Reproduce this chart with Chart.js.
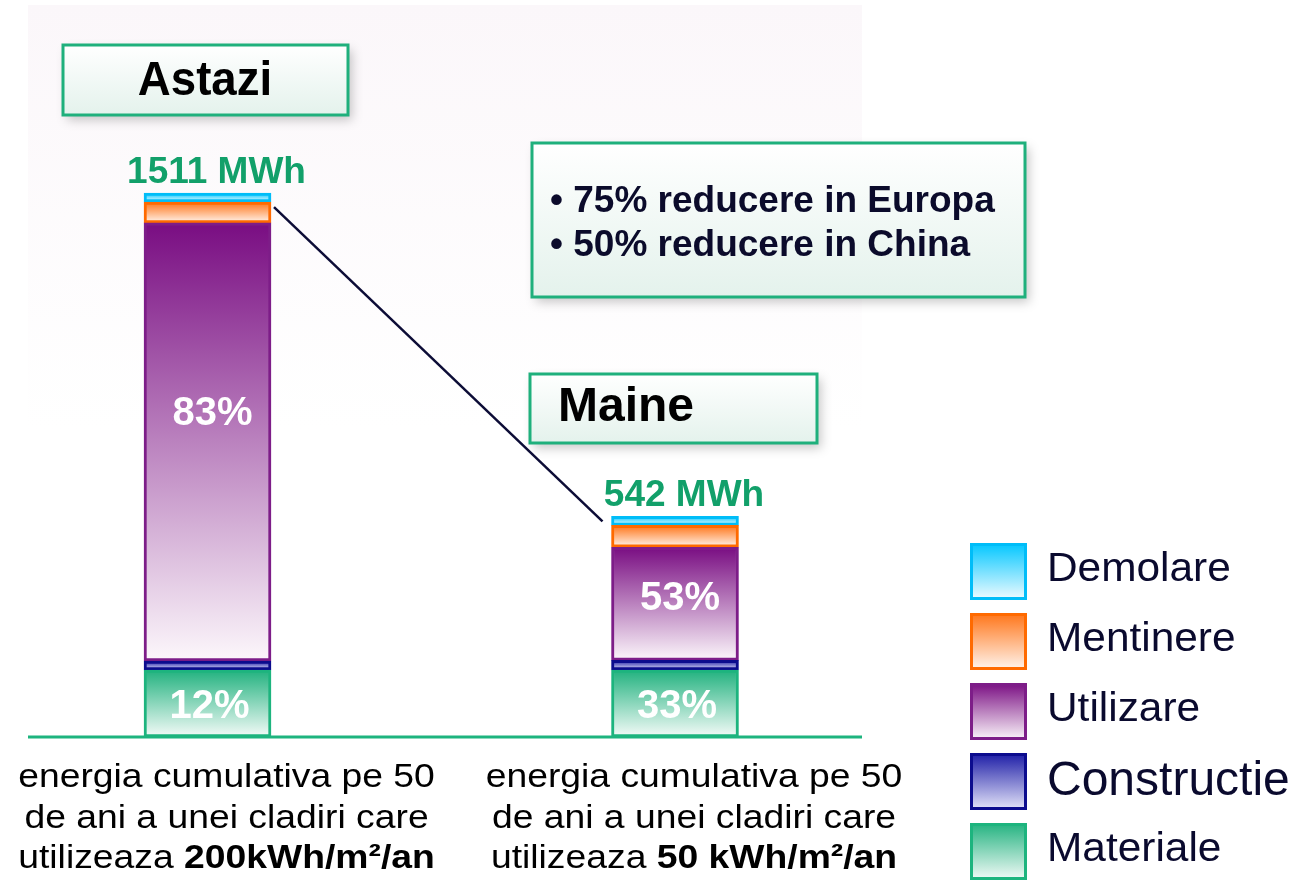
<!DOCTYPE html>
<html>
<head>
<meta charset="utf-8">
<script src="https://cdn.jsdelivr.net/npm/chart.js@4/dist/chart.umd.min.js"></script>
<style>
  html, body { margin: 0; padding: 0; background: #ffffff; }
  #wrap { width: 1304px; height: 880px; }
</style>
</head>
<body>
<div id="wrap"><canvas id="energyChart"></canvas></div>
<script>
const categories = ['Astazi', 'Maine']
const seriesNames = ['Materiale', 'Constructie', 'Utilizare', 'Mentinere', 'Demolare']

// MWh pe faza (de jos in sus)
const materiale   = [186, 186]
const constructie = [25, 27]
const utilizare   = [1217, 314]
const mentinere   = [58, 61]
const demolare    = [25, 25]

const totalLabels  = ['1511 MWh', '542 MWh']
const materialePct = ['12%', '33%']
const utilizarePct = ['83%', '53%']

const captionLines = [
    ['energia cumulativa pe 50', 'de ani a unei cladiri care', ['utilizeaza ', '200kWh/m²/an']],
    ['energia cumulativa pe 50', 'de ani a unei cladiri care', ['utilizeaza ', '50 kWh/m²/an']]
]
const notes = ['• 75% reducere in Europa', '• 50% reducere in China']

const palette = {
    Materiale:   { border: '#1db47e', top: '#22b27f', bottom: '#f4fbf8' },
    Constructie: { border: '#0c0c8e', top: '#1c1ca6', bottom: '#e6e6fa' },
    Utilizare:   { border: '#7d1d88', top: '#790d82', bottom: '#fcf7fb' },
    Mentinere:   { border: '#ff6a00', top: '#ff7417', bottom: '#fff6f0' },
    Demolare:    { border: '#00bdf8', top: '#00c6ff', bottom: '#f2fcff' }
}

const seriesValues = [materiale, constructie, utilizare, mentinere, demolare]

function vGradient(ctx, y0, y1, c0, c1) {
    const g = ctx.createLinearGradient(0, y0, 0, y1)
    g.addColorStop(0, c0)
    g.addColorStop(1, c1)
    return g
}

// fiecare segment are gradientul lui, de sus (inchis) in jos (deschis)
function segmentFill(context) {
    const chart = context.chart
    const col = palette[context.dataset.label]
    if (!chart.chartArea) return col.top
    const i = context.dataIndex
    let base = 0
    for (let d = 0; d < context.datasetIndex; d++) base += chart.data.datasets[d].data[i].y
    const top = base + context.dataset.data[i].y
    const y = chart.scales.y
    return vGradient(chart.ctx, y.getPixelForValue(top), y.getPixelForValue(base), col.top, col.bottom)
}

function drawText(ctx, str, x, y, font, color, align = 'left', sx = 1) {
    ctx.save()
    ctx.font = font
    ctx.fillStyle = color
    ctx.textAlign = align
    ctx.textBaseline = 'alphabetic'
    ctx.translate(x, y)
    ctx.scale(sx, 1)
    ctx.fillText(str, 0, 0)
    ctx.restore()
}

// linie cu bucati normale / bold, centrata pe cx
function drawRuns(ctx, runs, cx, y, size, sx) {
    const fonts = runs.map((r, k) => (k === 1 ? 'bold ' : '') + size + 'px "Liberation Sans", Arial, sans-serif')
    let total = 0
    const widths = runs.map((r, k) => { ctx.font = fonts[k]; const w = ctx.measureText(r).width * sx; total += w; return w })
    let x = cx - total / 2
    runs.forEach((r, k) => {
        drawText(ctx, r, x, y, fonts[k], '#000000', 'left', sx)
        x += widths[k]
    })
}

function noteBox(ctx, x, y, w, h) {
    ctx.save()
    ctx.shadowColor = 'rgba(0, 0, 0, 0.22)'
    ctx.shadowBlur = 10
    ctx.shadowOffsetX = 4
    ctx.shadowOffsetY = 5
    ctx.fillStyle = vGradient(ctx, y, y + h, '#ffffff', '#e4f2ec')
    ctx.fillRect(x, y, w, h)
    ctx.restore()
    ctx.save()
    ctx.strokeStyle = '#1fb07c'
    ctx.lineWidth = 3
    ctx.strokeRect(x, y, w, h)
    ctx.restore()
}

const decorPlugin = {
    id: 'decor',
    beforeDraw(chart) {
        const { ctx, chartArea } = chart
        ctx.save()
        ctx.fillStyle = vGradient(ctx, 5, 430, '#fbf7fa', '#ffffff')
        ctx.fillRect(chartArea.left, 5, chartArea.right - chartArea.left, chartArea.bottom - 5)
        ctx.restore()
    },
    afterDatasetsDraw(chart) {
        const { ctx, chartArea } = chart
        const font = s => 'bold ' + s + 'px "Liberation Sans", Arial, sans-serif'
        const topMeta = chart.getDatasetMeta(seriesNames.length - 1)
        const matMeta = chart.getDatasetMeta(0)
        const utilMeta = chart.getDatasetMeta(2)

        // linia verde de baza
        ctx.save()
        ctx.strokeStyle = '#1db47e'
        ctx.lineWidth = 3
        ctx.beginPath()
        ctx.moveTo(chartArea.left, chartArea.bottom)
        ctx.lineTo(chartArea.right, chartArea.bottom)
        ctx.stroke()
        ctx.restore()

        // linia de legatura intre cele doua bare
        const a = topMeta.data[0], b = topMeta.data[1]
        ctx.save()
        ctx.strokeStyle = '#0c0c36'
        ctx.lineWidth = 2.5
        ctx.beginPath()
        ctx.moveTo(a.x + a.width / 2 + 3, a.y + 14)
        ctx.lineTo(b.x - b.width / 2 - 9, b.y + 5)
        ctx.stroke()
        ctx.restore()

        categories.forEach((c, i) => {
            const top = topMeta.data[i]
            drawText(ctx, totalLabels[i], top.x + 9, top.y - 10, font(37), '#12a06a', 'center')

            const m = matMeta.data[i]
            drawText(ctx, materialePct[i], m.x + 2, (m.y + m.base) / 2 + 14, font(40), '#ffffff', 'center')

            const u = utilMeta.data[i]
            drawText(ctx, utilizarePct[i], u.x + 5, u.y + (u.base - u.y) * 0.43 + 14, font(40), '#ffffff', 'center')
        })
    },
    afterDraw(chart) {
        const { ctx, chartArea } = chart
        const bold = s => 'bold ' + s + 'px "Liberation Sans", Arial, sans-serif'
        const reg = s => s + 'px "Liberation Sans", Arial, sans-serif'

        // casete de text
        noteBox(ctx, 63, 45, 285, 70)
        drawText(ctx, categories[0], 205, 95, bold(48), '#000000', 'center', 0.95)
        noteBox(ctx, 530, 374, 287, 69)
        drawText(ctx, categories[1], 558, 421, bold(48), '#000000', 'left')
        noteBox(ctx, 532, 143, 493, 154)
        drawText(ctx, notes[0], 550, 212, bold(37), '#0b0b2b', 'left')
        drawText(ctx, notes[1], 550, 256, bold(37), '#0b0b2b', 'left')

        // texte sub bare
        const meta = chart.getDatasetMeta(0)
        captionLines.forEach((lines, i) => {
            const cx = meta.data[i].x + 19
            drawRuns(ctx, [lines[0]], cx, chartArea.bottom + 50, 33, 1.13)
            drawRuns(ctx, [lines[1]], cx, chartArea.bottom + 91, 33, 1.13)
            drawRuns(ctx, lines[2], cx, chartArea.bottom + 131, 33, 1.13)
        })

        // legenda, de sus in jos: Demolare ... Materiale
        const names = seriesNames.slice().reverse()
        names.forEach((name, k) => {
            const col = palette[name]
            const x = 970, y = 543 + 70 * k, s = 57
            ctx.save()
            ctx.fillStyle = vGradient(ctx, y, y + s, col.top, col.bottom)
            ctx.fillRect(x, y, s, s)
            ctx.strokeStyle = col.border
            ctx.lineWidth = 3
            ctx.strokeRect(x + 1.5, y + 1.5, s - 3, s - 3)
            ctx.restore()
            const big = name === 'Constructie'
            drawText(ctx, name, 1047, y + (big ? 42 : 38), reg(big ? 48 : 40), '#0a0a2e', 'left', big ? 1 : 1.06)
        })
    }
}

const ctx = document.getElementById('energyChart').getContext('2d')
const energyChart = new Chart(ctx, {
    type: 'bar',
    data: {
        datasets: seriesNames.map((name, d) => ({
            label: name,
            data: seriesValues[d].map((v, i) => ({ x: i, y: v })),
            backgroundColor: segmentFill,
            borderColor: palette[name].border,
            borderWidth: 3,
            borderSkipped: false,
            barThickness: 127
        }))
    },
    options: {
        responsive: true,
        maintainAspectRatio: false,
        animation: false,
        events: [],
        devicePixelRatio: 1,
        layout: {
            padding: { left: 28, right: 442, top: 143, bottom: 143 }
        },
        scales: {
            x: {
                type: 'linear',
                stacked: true,
                offset: false,
                min: -0.384,
                max: 1.4,
                display: false
            },
            y: {
                stacked: true,
                min: 0,
                max: 1650,
                display: false
            }
        },
        plugins: {
            legend: { display: false },
            tooltip: { enabled: false }
        }
    },
    plugins: [decorPlugin]
})
</script>
</body>
</html>
